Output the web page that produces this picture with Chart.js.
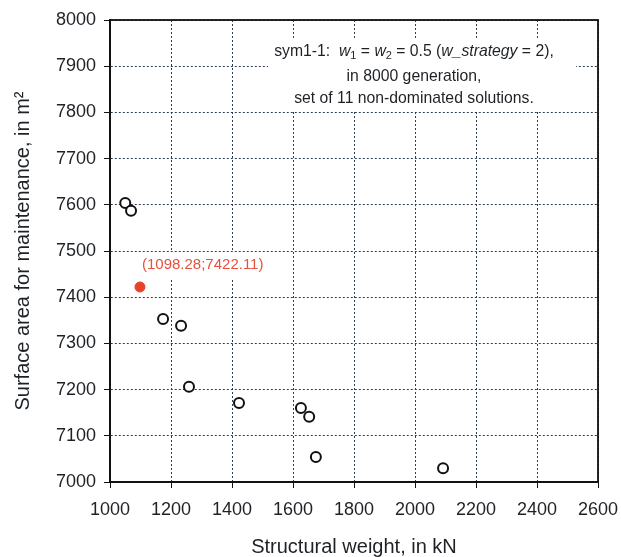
<!DOCTYPE html>
<html>
<head>
<meta charset="utf-8">
<script src="https://cdn.jsdelivr.net/npm/chart.js@4/dist/chart.umd.min.js"></script>
<style>
  html, body { margin: 0; padding: 0; background: #fff; }
  #wrap { width: 621px; height: 557px; }
</style>
</head>
<body>
<div id="wrap"><canvas id="c" width="621" height="557"></canvas></div>
<script>
// ── Data ──────────────────────────────────────────────────────
const weights  = [1050, 1069, 1174, 1233, 1259, 1423, 1626, 1653, 1675, 2092];
const areas    = [7604, 7587, 7353, 7338, 7206, 7171, 7160, 7141, 7054, 7030];
const bestX    = [1098.28];
const bestY    = [7422.11];
const bestText = '(1098.28;7422.11)';
const xTicks   = [1000, 1200, 1400, 1600, 1800, 2000, 2200, 2400, 2600];
const yTicks   = [7000, 7100, 7200, 7300, 7400, 7500, 7600, 7700, 7800, 7900, 8000];

const FONT = '"Liberation Sans", Arial, sans-serif';
const INK  = '#1e2226';

// ── Helpers ───────────────────────────────────────────────────
function toPoints(xs, ys) {
    return xs.map((x, i) => ({ x, y: ys[i] }));
}

// segments: [text, kind] kind = n | i | s (subscript)
function drawRich(ctx, segs, cx, cy, size) {
    const fontFor = k => k === 'i' ? `italic ${size}px ${FONT}`
                       : k === 's' ? `${Math.round(size * 0.72)}px ${FONT}`
                       : `${size}px ${FONT}`;
    let total = 0;
    segs.forEach(([t, k]) => { ctx.font = fontFor(k); total += ctx.measureText(t).width; });
    let x = cx - total / 2;
    ctx.textBaseline = 'middle';
    ctx.textAlign = 'left';
    segs.forEach(([t, k]) => {
        ctx.font = fontFor(k);
        ctx.fillText(t, x, k === 's' ? cy + size * 0.28 : cy);
        x += ctx.measureText(t).width;
    });
}

// ── Annotation plugin (drawn over grid, under points) ────────
const notes = {
    id: 'notes',
    beforeDatasetsDraw(chart) {
        const { ctx, scales } = chart;
        ctx.save();

        // text box
        ctx.fillStyle = '#fff';
        ctx.fillRect(268, 38, 308, 74);
        ctx.fillStyle = INK;
        const cx = 414, sz = 15.75;
        drawRich(ctx, [['sym1-1:  ', 'n'], ['w', 'i'], ['1', 's'], [' = ', 'n'], ['w', 'i'], ['2', 's'],
                       [' = 0.5 (', 'n'], ['w_strategy', 'i'], [' = 2),', 'n']], cx, 52, sz);
        drawRich(ctx, [['in 8000 generation,', 'n']], cx, 77, sz);
        drawRich(ctx, [['set of 11 non-dominated solutions.', 'n']], cx, 99, sz);

        // red point label
        const px = scales.x.getPixelForValue(bestX[0]);
        const py = scales.y.getPixelForValue(bestY[0]);
        ctx.font = `15px ${FONT}`;
        const w = ctx.measureText(bestText).width;
        ctx.fillStyle = '#fff';
        ctx.fillRect(px, py - 35, w + 6, 26);
        ctx.fillStyle = '#e8503e';
        ctx.textAlign = 'left';
        ctx.textBaseline = 'middle';
        ctx.fillText(bestText, px + 2, py - 22);

        ctx.restore();
    },
    afterDraw(chart) {
        const { ctx, chartArea: a } = chart;
        ctx.save();
        ctx.strokeStyle = '#111';
        ctx.lineWidth = 1.8;
        ctx.strokeRect(a.left, a.top, a.right - a.left, a.bottom - a.top);
        ctx.restore();
    }
};

// ── Chart ─────────────────────────────────────────────────────
new Chart(document.getElementById('c'), {
    type: 'scatter',
    data: {
        datasets: [
            {
                label: 'solutions',
                data: toPoints(weights, areas),
                pointStyle: 'circle',
                pointRadius: 5,
                pointBorderWidth: 2,
                borderColor: '#111',
                backgroundColor: '#fff',
            },
            {
                label: 'best',
                data: toPoints(bestX, bestY),
                pointRadius: 5,
                pointBorderWidth: 1,
                borderColor: '#e8412c',
                backgroundColor: '#e8412c',
            }
        ]
    },
    options: {
        responsive: false,
        animation: false,
        layout: { padding: { left: 0, top: 20, right: 23, bottom: 0 } },
        plugins: { legend: { display: false }, tooltip: { enabled: false } },
        scales: {
            x: {
                type: 'linear',
                min: 1000, max: 2600,
                afterBuildTicks: s => { s.ticks = xTicks.map(v => ({ value: v })); },
                afterFit: s => { s.height = 75; s.paddingLeft = 0; s.paddingRight = 0; },
                grid: { color: '#2c3e50', lineWidth: 1, tickLength: 6, tickColor: '#111' },
                border: { display: true, color: '#111', width: 1.8, dash: [2, 2] },
                ticks: { color: INK, font: { family: FONT, size: 18 }, padding: 11,
                         maxRotation: 0, autoSkip: false, callback: v => String(v) },
                title: { display: true, text: 'Structural weight, in kN', color: INK,
                         font: { family: FONT, size: 20 }, padding: { top: 2, bottom: -2 } }
            },
            y: {
                type: 'linear',
                min: 7000, max: 8000,
                afterBuildTicks: s => { s.ticks = yTicks.map(v => ({ value: v })); },
                afterFit: s => { s.width = 110; s.paddingTop = 0; s.paddingBottom = 0; },
                grid: { color: '#2c3e50', lineWidth: 1, tickLength: 6, tickColor: '#111' },
                border: { display: true, color: '#111', width: 1.8, dash: [2, 2] },
                ticks: { color: INK, font: { family: FONT, size: 18 }, padding: 8,
                         autoSkip: false, callback: v => String(v) },
                title: { display: true, text: 'Surface area for maintenance, in m\u00B2', color: INK,
                         font: { family: FONT, size: 20 }, padding: { top: 11, bottom: 0 } }
            }
        }
    },
    plugins: [notes]
});
</script>
</body>
</html>
